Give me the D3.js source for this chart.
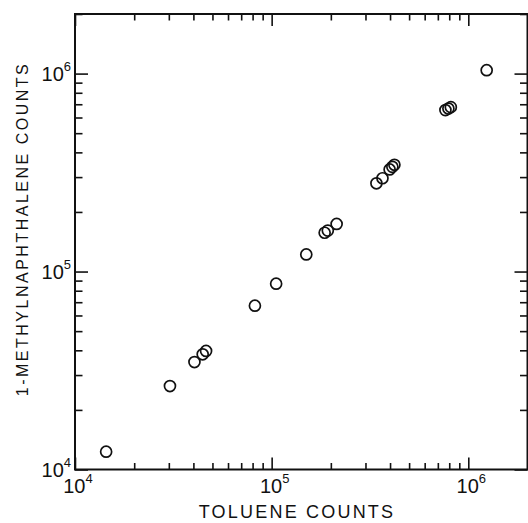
<!DOCTYPE html>
<html>
<head>
<meta charset="utf-8">
<script src="https://cdn.jsdelivr.net/npm/d3@7"></script>
<style>
  html, body { margin: 0; padding: 0; background: #fff; }
  svg text { font-family: "Liberation Sans", "DejaVu Sans", sans-serif; fill: #111; }
</style>
</head>
<body>
<svg id="chart" width="528" height="523"></svg>
<script>
/* ── Data ─────────────────────────────────────────────────────────────── */
const tolueneCounts = [
  1.44e4, 3.04e4, 4.05e4, 4.46e4, 4.64e4, 8.22e4, 1.054e5, 1.50e5, 1.86e5, 1.93e5,
  2.14e5, 3.41e5, 3.66e5, 3.98e5, 4.11e5, 4.21e5, 7.65e5, 7.92e5, 8.15e5, 1.24e6
];
const methylCounts = [
  1.23e4, 2.64e4, 3.49e4, 3.82e4, 3.97e4, 6.72e4, 8.68e4, 1.22e5, 1.57e5, 1.61e5,
  1.74e5, 2.79e5, 2.96e5, 3.28e5, 3.38e5, 3.46e5, 6.54e5, 6.66e5, 6.77e5, 1.04e6
];
const majorTicks = [1e4, 1e5, 1e6];
const tickExponents = ['4', '5', '6'];
const axisDomain = [1e4, 2e6];

/* ── Layout ───────────────────────────────────────────────────────────── */
const plotL = 75, plotR = 527.5, plotT = 14, plotB = 469.5;
const INK = '#111';

const svg = d3.select('#chart');

const x = d3.scaleLog().domain(axisDomain).range([plotL, plotR]);
const y = d3.scaleLog().domain(axisDomain).range([plotB, plotT]);

// all 1..9 x 10^k ticks inside the domain
const allTicks = x.ticks();
const minorTicks = allTicks.filter(v => !majorTicks.includes(v));

function styleAxis(g) {
  g.select('.domain').remove();
  g.selectAll('line').attr('stroke', INK).attr('stroke-width', 1.6);
  g.selectAll('text').remove();
}

// Ticks point inward on all four sides
const MAJ = 12, MIN = 6.5;
[
  [d3.axisBottom(x), `translate(0,${plotB})`],
  [d3.axisTop(x),    `translate(0,${plotT})`],
].forEach(([ax, tr]) => {
  svg.append('g').attr('transform', tr).call(ax.tickValues(minorTicks).tickSize(-MIN)).call(styleAxis);
  svg.append('g').attr('transform', tr).call(ax.tickValues(majorTicks).tickSize(-MAJ)).call(styleAxis);
});
[
  [d3.axisLeft(y),  `translate(${plotL},0)`],
  [d3.axisRight(y), `translate(${plotR},0)`],
].forEach(([ax, tr]) => {
  svg.append('g').attr('transform', tr).call(ax.tickValues(minorTicks).tickSize(-MIN - 1)).call(styleAxis);
  svg.append('g').attr('transform', tr).call(ax.tickValues(majorTicks).tickSize(-MAJ - 1)).call(styleAxis);
});

// Frame
svg.append('rect')
  .attr('x', plotL).attr('y', plotT)
  .attr('width', plotR - plotL).attr('height', plotB - plotT)
  .attr('fill', 'none').attr('stroke', INK).attr('stroke-width', 2);

/* ── Tick labels (10 with superscript exponent) ───────────────────────── */
majorTicks.forEach((v, i) => {
  const tx = svg.append('text')
    .attr('x', x(v) + 3).attr('y', plotB + 23)
    .attr('text-anchor', 'middle')
    .style('font-size', '20px')
    .text('10');
  tx.append('tspan').attr('dy', -10).style('font-size', '13px').text(tickExponents[i]);

  const ty = svg.append('text')
    .attr('x', plotL - 4).attr('y', y(v) + 7)
    .attr('text-anchor', 'end')
    .style('font-size', '20px')
    .text('10');
  ty.append('tspan').attr('dy', -10).style('font-size', '13px').text(tickExponents[i]);
});

/* ── Axis titles ──────────────────────────────────────────────────────── */
svg.append('text')
  .attr('x', 297).attr('y', 518)
  .attr('text-anchor', 'middle')
  .style('font-size', '18px')
  .style('letter-spacing', '2.2px')
  .text('TOLUENE COUNTS');

svg.append('text')
  .attr('transform', 'translate(28,229) rotate(-90)')
  .attr('text-anchor', 'middle')
  .style('font-size', '16px')
  .style('letter-spacing', '2.5px')
  .text('1-METHYLNAPHTHALENE COUNTS');

/* ── Points ───────────────────────────────────────────────────────────── */
svg.append('g')
  .selectAll('circle')
  .data(tolueneCounts.map((t, i) => [t, methylCounts[i]]))
  .join('circle')
    .attr('cx', d => x(d[0]))
    .attr('cy', d => y(d[1]))
    .attr('r', 5.5)
    .attr('fill', 'none')
    .attr('stroke', INK)
    .attr('stroke-width', 1.7);
</script>
</body>
</html>
